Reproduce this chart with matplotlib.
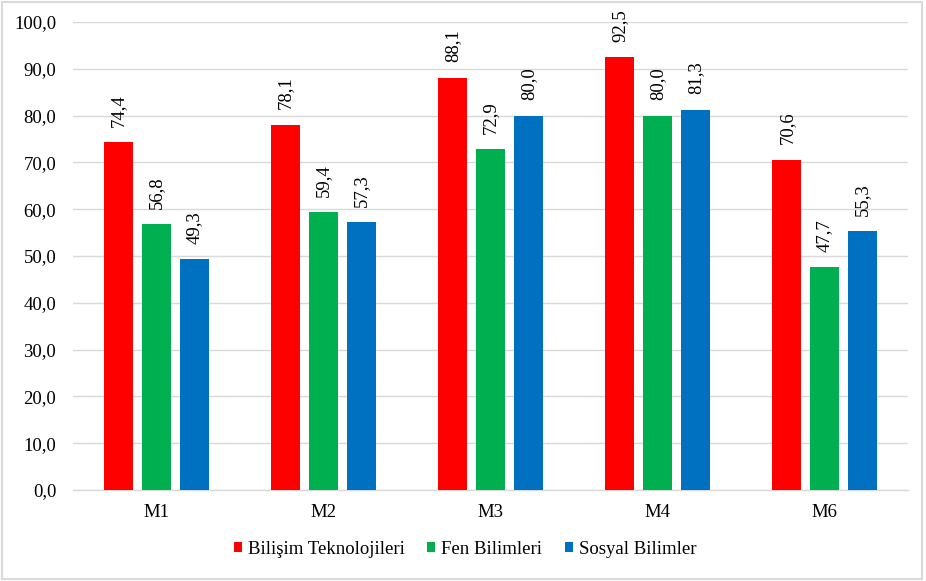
import matplotlib.pyplot as plt
import numpy as np
from matplotlib.patches import Rectangle
from matplotlib.font_manager import FontProperties

plt.rcParams['font.family'] = ['Liberation Serif', 'DejaVu Serif']

categories = ['M1', 'M2', 'M3', 'M4', 'M6']
series_names = ['Bilişim Teknolojileri', 'Fen Bilimleri', 'Sosyal Bilimler']
bilisim = [74.4, 78.1, 88.1, 92.5, 70.6]
fen = [56.8, 59.4, 72.9, 80.0, 47.7]
sosyal = [49.3, 57.3, 80.0, 81.3, 55.3]
colors = ['#FF0000', '#00B050', '#0070C0']

fig = plt.figure(figsize=(9.26, 5.81), dpi=100)
ax = fig.add_axes([0.0788, 0.1566, 0.902, 0.8054])

x = np.arange(len(categories))
width = 0.174
step = 0.226
for i, (vals, name) in enumerate(zip([bilisim, fen, sosyal], series_names)):
    bars = ax.bar(x + (i - 1) * step, vals, width, color=colors[i], label=name, zorder=3)
    labels = [f'{v:.1f}'.replace('.', ',') for v in vals]
    ax.bar_label(bars, labels=labels, rotation=90, padding=11, fontsize=13.5)

ax.set_xlim(-0.5, len(categories) - 0.5)
ax.set_ylim(0, 100)
ax.set_yticks(np.arange(0, 101, 10))
ax.set_yticklabels([f'{v:.1f}'.replace('.', ',') for v in np.arange(0, 101, 10)], fontsize=13.5)
ax.set_xticks(x, labels=categories, fontsize=13.5)
ax.tick_params(length=0, pad=10)
ax.tick_params(axis='y', pad=12)
ax.yaxis.grid(True, color='#d9d9d9', linewidth=1, zorder=0)
for s in ['top', 'right', 'left']:
    ax.spines[s].set_visible(False)
ax.spines['bottom'].set_color('#d9d9d9')
ax.spines['bottom'].set_linewidth(1)

fig.legend(loc='center', bbox_to_anchor=(0.502, 0.055), ncol=3, frameon=False,
           prop=FontProperties(family='Liberation Serif', size=13.5),
           handlelength=0.45, handleheight=0.45, handletextpad=0.3, columnspacing=1.2)

fig.patches.append(Rectangle((0.002, 0.003), 0.994, 0.994, transform=fig.transFigure,
                             fill=False, edgecolor='#d9d9d9', linewidth=1.5))

fig.savefig('out.png', dpi=100)
